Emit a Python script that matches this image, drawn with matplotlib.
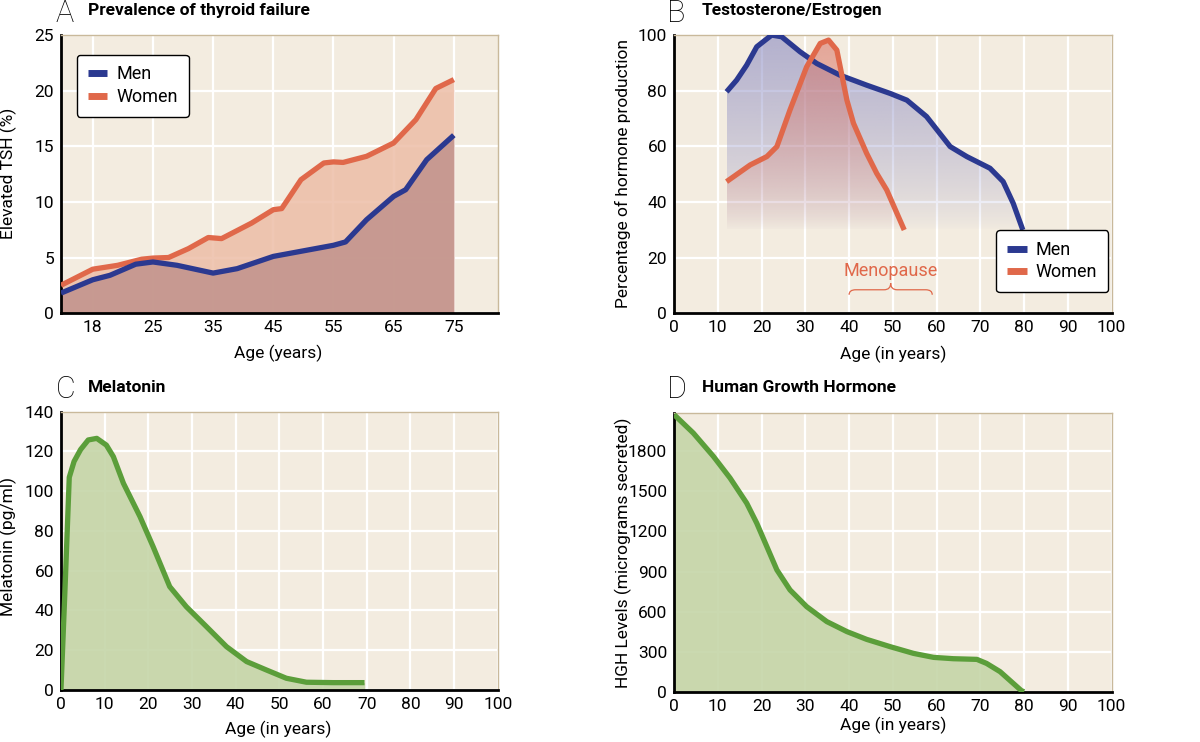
import numpy as np
import matplotlib
matplotlib.use("Agg")
import matplotlib.pyplot as plt
from matplotlib.path import Path
from matplotlib.patches import PathPatch

plt.rcParams['font.family'] = ['Roboto', 'DejaVu Sans']

# ---- data -----------------------------------------------------------------
# A: prevalence of thyroid failure
tsh_ticks = [18, 25, 35, 45, 55, 65, 75]
tsh_men_age = [14.3, 18, 20, 23, 25, 29, 35, 39, 45, 55, 57, 60.5, 65, 67, 70.5, 75]
tsh_men = [1.8, 3.0, 3.4, 4.4, 4.6, 4.3, 3.6, 4.0, 5.1, 6.1, 6.4, 8.4, 10.5, 11.1, 13.8, 16.0]
tsh_women_age = [14.3, 18, 20.9, 23.7, 25, 27.6, 30.9, 34.2, 36.4, 41.4, 45, 46.4, 49.6,
                 53.4, 55, 56.6, 60.5, 65, 68.7, 72, 75]
tsh_women = [2.5, 3.95, 4.3, 4.85, 4.95, 5.0, 5.8, 6.8, 6.7, 8.1, 9.3, 9.4, 12.0,
             13.5, 13.6, 13.55, 14.1, 15.3, 17.4, 20.2, 21.0]

# B: testosterone / estrogen
tes_age = [12.0, 14.3, 16.6, 18.9, 22.3, 24.6, 28.8, 32.6, 37.9, 44.0, 49.4, 53.2,
           57.7, 63.1, 66.9, 72.2, 75.2, 77.5, 79.7]
tes = [79.6, 83.8, 89.2, 95.8, 100, 99.4, 94.0, 89.8, 85.6, 82.0, 79.0, 76.6,
       70.7, 59.9, 56.3, 52.1, 47.3, 39.5, 29.9]
est_age = [12.0, 17.4, 21.2, 23.5, 26.5, 30.3, 33.4, 35.3, 37.2, 39.5, 41.0, 44.0,
           46.3, 48.6, 52.6]
est = [47.3, 53.3, 56.3, 59.9, 73.1, 88.6, 97.0, 98.2, 94.6, 76.6, 68.3, 57.5,
       50.3, 44.3, 29.9]
menopause = (40, 59)

# C: melatonin
mel_age = [0, 1.0, 1.9, 3.0, 4.5, 6.25, 8.2, 10.4, 12.0, 14.3, 18.1, 21.1, 24.9, 28.7,
           33.3, 37.9, 42.5, 47.0, 51.6, 56.2, 62.3, 69.5]
mel = [0, 55, 107, 115, 121, 125.8, 126.6, 123.2, 117.4, 104, 87.2, 72.1, 52, 41.9,
       31.9, 21.8, 14.3, 10.1, 5.9, 3.9, 3.7, 3.7]

# D: human growth hormone
hgh_age = [0, 4.4, 9.0, 12.8, 16.6, 18.9, 21.2, 23.5, 26.5, 30.3, 34.9, 39.5, 44.0,
           49.4, 54.7, 59.3, 63.8, 69.2, 71.4, 74.5, 79.4, 80]
hgh = [2075, 1937, 1762, 1600, 1412, 1262, 1087, 912, 762, 637, 525, 450, 392,
       337, 287, 257, 247, 242, 212, 150, 7, 0]

# ---- style ----------------------------------------------------------------
BG = '#f3ece0'
BLUE = '#2b3990'
ORANGE = '#e0684a'
GREEN = '#5b9e3a'
TAN = '#c9b99b'
LW = 3.8
LINE = dict(lw=LW, solid_joinstyle='round', solid_capstyle='butt')


def style_axes(ax):
    ax.set_facecolor(BG)
    ax.grid(True, color='white', linewidth=1.6, zorder=0)
    ax.set_axisbelow(True)
    for s in ['left', 'bottom']:
        ax.spines[s].set_color('black')
        ax.spines[s].set_linewidth(2.0)
    for s in ['top', 'right']:
        ax.spines[s].set_color(TAN)
        ax.spines[s].set_linewidth(1.0)
    ax.tick_params(length=0, labelsize=12.5, pad=5)


def gradient_fill(ax, x, y, rgb, alpha_top, base, top, z, power):
    poly = ax.fill_between(x, y, base, facecolor='none', edgecolor='none')
    grad = np.zeros((256, 1, 4))
    grad[..., :3] = np.array(rgb) / 255.0
    grad[..., 3] = (np.linspace(0, 1, 256) ** power * alpha_top)[:, None]
    im = ax.imshow(grad, extent=[min(x), max(x), base, top], origin='lower',
                   aspect='auto', zorder=z, interpolation='bilinear')
    im.set_clip_path(poly.get_paths()[0], ax.transData)


fig = plt.figure(figsize=(12, 7.42), dpi=100)
fig.patch.set_facecolor('white')

axA = fig.add_axes([0.0508, 0.578, 0.364, 0.3747])
axB = fig.add_axes([0.5617, 0.578, 0.3647, 0.3747])
axC = fig.add_axes([0.0508, 0.0701, 0.364, 0.375])
axD = fig.add_axes([0.5617, 0.0678, 0.3647, 0.3756])

# ---- A ------------------------------------------------------------------
xp = [-100] + tsh_ticks + [200]
fp = [-(18 + 100) / 7.0] + list(range(len(tsh_ticks))) + [len(tsh_ticks) - 1 + 12.5]
axA.set_xscale('function', functions=(lambda a: np.interp(a, xp, fp),
                                       lambda p: np.interp(p, fp, xp)))
style_axes(axA)
axA.fill_between(tsh_women_age, tsh_women, 0, color='#edbea7', alpha=0.85, lw=0, zorder=1)
axA.fill_between(tsh_men_age, tsh_men, 0, color='#c3958e', alpha=0.9, lw=0, zorder=2)
axA.plot(tsh_women_age, tsh_women, color=ORANGE, zorder=3, label='Women', **LINE)
axA.plot(tsh_men_age, tsh_men, color=BLUE, zorder=4, label='Men', **LINE)
axA.set_xlim(14.3, 82.3)
axA.set_ylim(0, 25)
axA.set_xticks(tsh_ticks)
axA.set_xticklabels([str(t) for t in tsh_ticks])
axA.set_yticks([0, 5, 10, 15, 20, 25])
h, l = axA.get_legend_handles_labels()
legA = axA.legend(h[::-1], l[::-1], loc='upper left', bbox_to_anchor=(0.036, 0.93),
                  borderaxespad=0, fontsize=13, handlelength=1.1, handletextpad=0.5,
                  fancybox=True, framealpha=1, edgecolor='black', borderpad=0.6,
                  labelspacing=0.25)
legA.get_frame().set_linewidth(1.0)
for ln in legA.get_lines():
    ln.set_linewidth(5)

# ---- B ------------------------------------------------------------------
style_axes(axB)
gradient_fill(axB, tes_age, tes, (140, 140, 195), 0.62, 30, 100, 1, 0.7)
gradient_fill(axB, est_age, est, (215, 105, 90), 0.55, 30, 100, 2, 0.8)
axB.plot(tes_age, tes, color=BLUE, zorder=3, label='Men', **LINE)
axB.plot(est_age, est, color=ORANGE, zorder=4, label='Women', **LINE)
axB.set_xlim(0, 100)
axB.set_ylim(0, 100)
axB.set_xticks(range(0, 101, 10))
axB.set_yticks(range(0, 101, 20))
legB = axB.legend(loc='lower left', bbox_to_anchor=(0.736, 0.075), borderaxespad=0,
                  fontsize=13, handlelength=1.1, handletextpad=0.5, fancybox=True,
                  framealpha=1, edgecolor='black', borderpad=0.6, labelspacing=0.25)
legB.get_frame().set_linewidth(1.0)
for ln in legB.get_lines():
    ln.set_linewidth(5)

# menopause brace
x0, x1 = menopause
xm = (x0 + x1) / 2.0
yb, yh, yt = 6.6, 8.4, 10.8
verts = [(x0, yb), (x0, yh), (x0 + 1.5, yh), (xm - 1.5, yh), (xm, yh), (xm, yt),
         (xm, yh), (xm + 1.5, yh), (x1 - 1.5, yh), (x1, yh), (x1, yb)]
codes = [Path.MOVETO, Path.CURVE3, Path.CURVE3, Path.LINETO, Path.CURVE3, Path.CURVE3,
         Path.CURVE3, Path.CURVE3, Path.LINETO, Path.CURVE3, Path.CURVE3]
axB.add_patch(PathPatch(Path(verts, codes), facecolor='none', edgecolor=ORANGE, lw=0.9, zorder=5))
axB.text(xm, 13.2, 'Menopause', color=ORANGE, fontsize=13, ha='center', va='baseline', zorder=5)

# ---- C ------------------------------------------------------------------
style_axes(axC)
axC.fill_between(mel_age, mel, 0, color='#c5d5a8', alpha=0.9, lw=0, zorder=1)
axC.plot(mel_age, mel, color=GREEN, zorder=3, **LINE)
axC.set_xlim(0, 100)
axC.set_ylim(0, 140)
axC.set_xticks(range(0, 101, 10))
axC.set_yticks(range(0, 141, 20))

# ---- D ------------------------------------------------------------------
style_axes(axD)
axD.fill_between(hgh_age, hgh, 0, color='#c5d5a8', alpha=0.9, lw=0, zorder=1)
axD.plot(hgh_age, hgh, color=GREEN, zorder=3, **LINE)
axD.set_xlim(0, 100)
axD.set_ylim(0, 2087)
axD.set_xticks(range(0, 101, 10))
axD.set_yticks(range(0, 1801, 300))

# ---- titles and labels ------------------------------------------------------
W, H = 1200.0, 742.0


def ftext(x, y, s, **kw):
    fig.text(x / W, 1 - y / H, s, **kw)


for letter, title, lx, tx, ty in [('A', 'Prevalence of thyroid failure', 56, 88, 12),
                                  ('B', 'Testosterone/Estrogen', 667, 702, 12),
                                  ('C', 'Melatonin', 56, 88, 388),
                                  ('D', 'Human Growth Hormone', 667, 702, 388)]:
    ftext(lx, ty + 1, letter, fontsize=22, fontweight='light', ha='left', va='center')
    ftext(tx, ty - 1, title, fontsize=12.5, fontweight='bold', ha='left', va='center')

ftext(8, 173, 'Elevated TSH (%)', fontsize=12.5, rotation=90, ha='center', va='center')
ftext(623, 173, 'Percentage of hormone production', fontsize=12.5, rotation=90, ha='center', va='center')
ftext(8, 547, 'Melatonin (pg/ml)', fontsize=12.5, rotation=90, ha='center', va='center')
ftext(623, 553, 'HGH Levels (micrograms secreted)', fontsize=12.5, rotation=90, ha='center', va='center')

ftext(278, 353, 'Age (years)', fontsize=12.5, ha='center', va='center')
ftext(893, 354, 'Age (in years)', fontsize=12.5, ha='center', va='center')
ftext(278, 729, 'Age (in years)', fontsize=12.5, ha='center', va='center')
ftext(893, 725, 'Age (in years)', fontsize=12.5, ha='center', va='center')

fig.savefig('out.png', dpi=100, facecolor='white')
